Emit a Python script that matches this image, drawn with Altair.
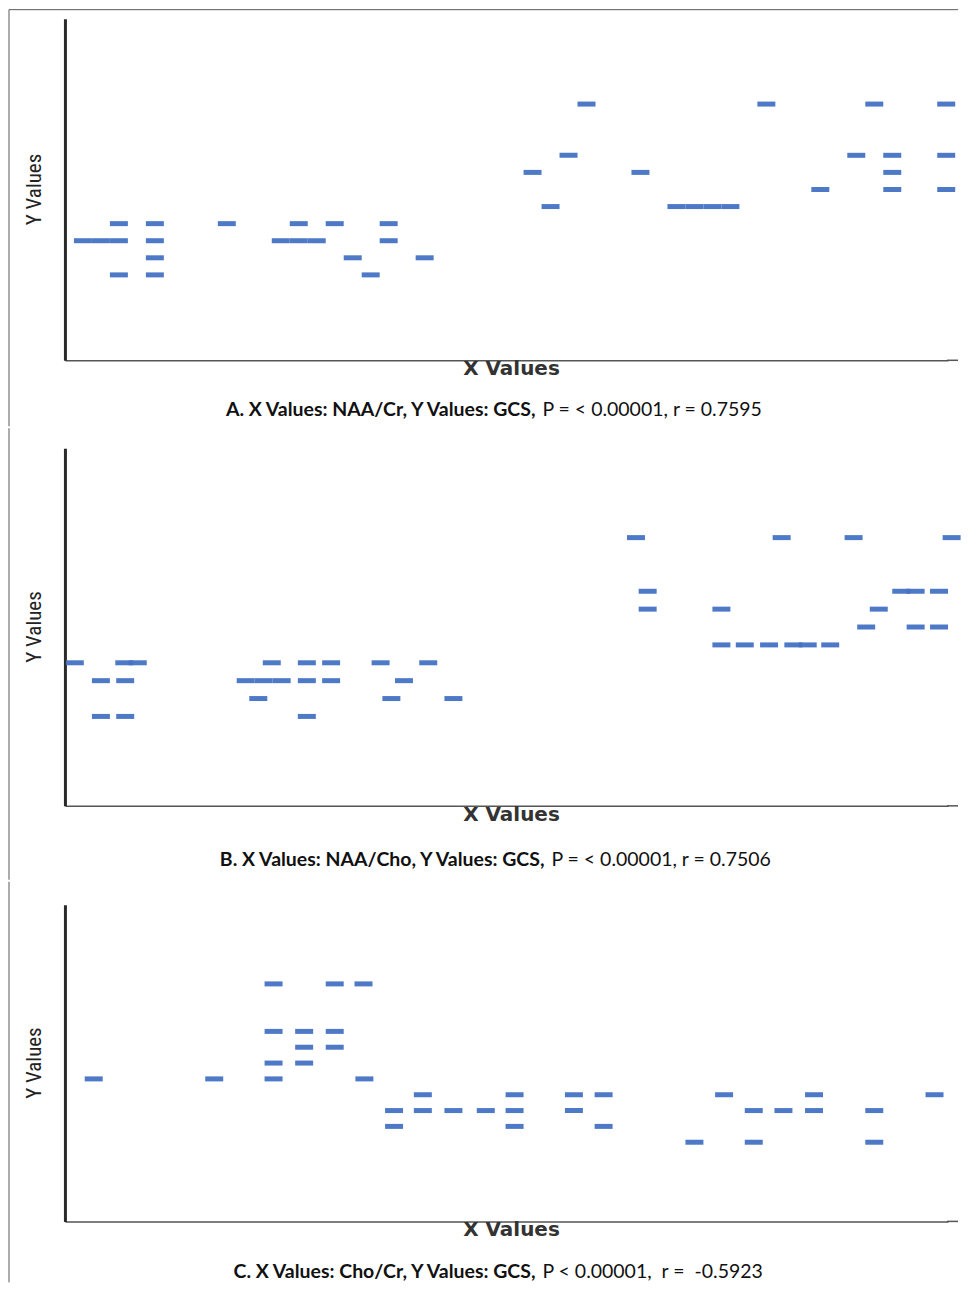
import altair as alt
import pandas as pd

# ---------------- data (x in arbitrary units, y = GCS) -------------
A_x = [58, 78, 90, 98,
       56, 88, 92, 98,
       52, 64, 92,
       84, 92, 98,
       54, 68, 70, 72, 74,
       6, 10, 18, 26, 30, 36,
       2, 4, 6, 10, 24, 26, 28, 36,
       10, 32, 40,
       6, 10, 34]
A_gcs = [15, 15, 15, 15,
         12, 12, 12, 12,
         11, 11, 11,
         10, 10, 10,
         9, 9, 9, 9, 9,
         8, 8, 8, 8, 8, 8,
         7, 7, 7, 7, 7, 7, 7, 7,
         6, 6, 6,
         5, 5, 5]

B_x = [63.5, 79.7, 87.7, 98.6,
       64.8, 93.0, 94.6, 97.2,
       64.8, 73.0, 90.5,
       89.1, 94.6, 97.2,
       73.0, 75.6, 78.3, 81.0, 82.6, 85.1,
       1.1, 6.6, 8.1, 23.0, 26.9, 29.6, 35.1, 40.4,
       4.0, 6.7, 20.1, 22.1, 24.1, 26.9, 29.6, 37.7,
       21.5, 36.3, 43.2,
       4.0, 6.7, 26.9]
B_gcs = [15, 15, 15, 15,
         12, 12, 12, 12,
         11, 11, 11,
         10, 10, 10,
         9, 9, 9, 9, 9, 9,
         8, 8, 8, 8, 8, 8, 8, 8,
         7, 7, 7, 7, 7, 7, 7, 7,
         6, 6, 6,
         5, 5, 5]

C_x = [23.2, 30.0, 33.2,
       23.2, 26.6, 30.0,
       26.6, 30.0,
       23.2, 26.6,
       3.2, 16.6, 23.2, 33.3,
       39.8, 50.0, 56.6, 59.9, 73.3, 83.3, 96.7,
       36.6, 39.8, 43.2, 46.8, 50.0, 56.6, 76.6, 79.9, 83.3, 90.0,
       36.6, 50.0, 59.9,
       70.0, 76.6, 90.0]
C_gcs = [15, 15, 15,
         12, 12, 12,
         11, 11,
         10, 10,
         9, 9, 9, 9,
         8, 8, 8, 8, 8, 8, 8,
         7, 7, 7, 7, 7, 7, 7, 7, 7, 7,
         6, 6, 6,
         5, 5, 5]

captions_bold = ["A. X Values: NAA/Cr, Y Values: GCS,",
                 "B. X Values: NAA/Cho, Y Values: GCS,",
                 "C. X Values: Cho/Cr, Y Values: GCS,"]
captions_reg = ["P = < 0.00001, r = 0.7595",
                "P = < 0.00001, r = 0.7506",
                "P < 0.00001,\u00a0 r =\u00a0 -0.5923"]
x_title = "X Values"
y_title = "Y Values"
y_domain = [0, 20]
x_domain = [0, 98.2]

# ---------------- layout ----------------
W = 884
EXT = 10
BLUE = "#4472C4"
FRAME = "#5a5a5a"
one = pd.DataFrame({"k": [0]})

layout = [
    dict(h=342, top=-9, bottom=408, cap_y=398, split=471, frame_top=True),
    dict(h=358, top=-20, bottom=432, cap_y=418.5, split=480, frame_top=False),
    dict(h=317, top=-23, bottom=378, cap_y=374, split=471, frame_top=False),
]
datasets = [(A_x, A_gcs), (B_x, B_gcs), (C_x, C_gcs)]


def panel(i):
    L = layout[i]
    xs, ys = datasets[i]
    df = pd.DataFrame({"x": xs, "gcs": ys})
    h = L["h"]

    pts = alt.Chart(df).mark_tick(orient="horizontal", size=18, thickness=5,
                                  color=BLUE, opacity=0.95).encode(
        x=alt.X("x:Q", scale=alt.Scale(domain=x_domain, nice=False, zero=False),
                axis=alt.Axis(domain=True, domainColor="#555555", domainWidth=1.5,
                              ticks=False, labels=False, grid=False, title=None)),
        y=alt.Y("gcs:Q", scale=alt.Scale(domain=y_domain, nice=False),
                axis=alt.Axis(domain=True, domainColor="#2a2a2a", domainWidth=3,
                              ticks=False, labels=False, grid=False, title=None)),
    )

    base = alt.Chart(one)
    left_frame = base.mark_rule(color=FRAME, strokeWidth=1).encode(
        x=alt.value(-56), y=alt.value(L["top"]), y2=alt.value(L["bottom"]))
    axis_ext = base.mark_rule(color="#555555", strokeWidth=1.5).encode(
        x=alt.value(W - 1), x2=alt.value(W + EXT), y=alt.value(h))
    layers = [pts, left_frame, axis_ext]
    if L["frame_top"]:
        top_frame = base.mark_rule(color=FRAME, strokeWidth=1).encode(
            x=alt.value(-56), x2=alt.value(W + EXT), y=alt.value(L["top"]))
        layers.append(top_frame)

    ylab = base.mark_text(angle=270, align="center", baseline="middle",
                          font="Liberation Sans Narrow, Roboto Condensed, Roboto",
                          fontSize=21, color="#222222").encode(
        x=alt.value(-30), y=alt.value(h / 2), text=alt.value(y_title))
    xlab = base.mark_text(align="center", baseline="middle",
                          font="DejaVu Sans", fontWeight="bold",
                          fontSize=20, color="#333333").encode(
        x=alt.value(447), y=alt.value(h + 9), text=alt.value(x_title))
    capb = base.mark_text(align="right", baseline="alphabetic", font="Lato",
                          fontWeight="bold", fontSize=19.5, color="#111111").encode(
        x=alt.value(L["split"]), y=alt.value(L["cap_y"]),
        text=alt.value(captions_bold[i]))
    capr = base.mark_text(align="left", baseline="alphabetic", font="Lato",
                          fontSize=19.5, color="#111111").encode(
        x=alt.value(L["split"] + 7), y=alt.value(L["cap_y"]),
        text=alt.value(captions_reg[i]))
    layers += [ylab, xlab, capb, capr]
    return alt.layer(*layers).properties(width=W, height=h)


chart = alt.vconcat(panel(0), panel(1), panel(2), spacing=0).properties(
    padding=0, background="white"
).configure_view(stroke="transparent").configure_concat(spacing=0)

chart.save("out.html", embed_options={"renderer": "svg", "actions": False})
